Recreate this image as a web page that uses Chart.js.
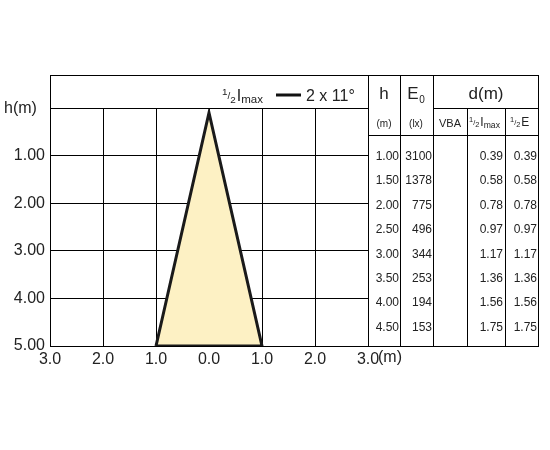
<!DOCTYPE html>
<html>
<head>
<meta charset="utf-8">
<script src="https://cdn.jsdelivr.net/npm/chart.js@4/dist/chart.umd.min.js"></script>
<style>
  html, body { margin: 0; padding: 0; background: #fff; }
  #wrap { width: 550px; height: 450px; }
</style>
</head>
<body>
<div id="wrap"><canvas id="beam" width="550" height="450"></canvas></div>
<script>
/* Beam diagram: 1/2 Imax, 2 x 11 deg */

var BEAM_HALF_ANGLE = 11;
var CONE_X = [-1.0, 0.0, 1.0, -1.0];
var CONE_H = [5.0, 0.1, 5.0, 5.0];
var TABLE_H = ['1.00', '1.50', '2.00', '2.50', '3.00', '3.50', '4.00', '4.50'];
var TABLE_E0 = ['3100', '1378', '775', '496', '344', '253', '194', '153'];
var TABLE_VBA = ['', '', '', '', '', '', '', ''];
var TABLE_HALF_IMAX = ['0.39', '0.58', '0.78', '0.97', '1.17', '1.36', '1.56', '1.75'];
var TABLE_HALF_E = ['0.39', '0.58', '0.78', '0.97', '1.17', '1.36', '1.56', '1.75'];
var FONT = 'Arial, "Liberation Sans", sans-serif';

function conePoints() {
  var pts = [];
  for (var i = 0; i < CONE_X.length; i += 1) {
    pts.push({ x: CONE_X[i], y: CONE_H[i] });
  }
  return pts;
}

function halfText(ctx, x, y, sub, size) {
  // draws a small "1/2" fraction then the symbol, returns width used
  ctx.font = (size * 0.62) + 'px ' + FONT;
  ctx.textAlign = 'left';
  ctx.fillText('1', x, y - size * 0.35);
  var w = ctx.measureText('1').width;
  ctx.fillText('/', x + w, y - size * 0.1);
  var w2 = ctx.measureText('/').width;
  ctx.fillText('2', x + w + w2, y + size * 0.1);
  var w3 = ctx.measureText('2').width;
  var cx = x + w + w2 + w3 + 1;
  ctx.font = size + 'px ' + FONT;
  ctx.fillText(sub[0], cx, y);
  cx += ctx.measureText(sub[0]).width;
  if (sub[1]) {
    ctx.font = (size * 0.72) + 'px ' + FONT;
    ctx.fillText(sub[1], cx, y + size * 0.15);
    cx += ctx.measureText(sub[1]).width;
  }
  return cx - x;
}

var framePlugin = {
  id: 'frame',
  afterDraw: function (chart) {
    var ctx = chart.ctx;
    var a = chart.chartArea;
    var L = 50, R = 538, T = 75, B = 346;
    ctx.save();
    ctx.strokeStyle = '#000';
    ctx.lineWidth = 1;
    ctx.strokeRect(L + 0.5, T + 0.5, R - L, B - T);
    ctx.beginPath();
    ctx.moveTo(368.5, T); ctx.lineTo(368.5, B);
    ctx.moveTo(400.5, T); ctx.lineTo(400.5, B);
    ctx.moveTo(433.5, T); ctx.lineTo(433.5, B);
    ctx.moveTo(467.5, 108); ctx.lineTo(467.5, B);
    ctx.moveTo(505.5, 108); ctx.lineTo(505.5, B);
    ctx.moveTo(433, 108.5); ctx.lineTo(R, 108.5);
    ctx.moveTo(368, 135.5); ctx.lineTo(R, 135.5);
    ctx.moveTo(L, a.top + 0.5); ctx.lineTo(368, a.top + 0.5);
    ctx.stroke();

    ctx.fillStyle = '#222';
    ctx.textBaseline = 'alphabetic';
    // header legend
    halfText(ctx, 222, 101, ['I', 'max'], 16);
    ctx.lineWidth = 3;
    ctx.strokeStyle = '#111';
    ctx.beginPath(); ctx.moveTo(276, 95); ctx.lineTo(301, 95); ctx.stroke();
    ctx.font = '16px ' + FONT;
    ctx.textAlign = 'left';
    ctx.fillText('2 x ' + BEAM_HALF_ANGLE + '°', 306, 101);

    // axis titles
    ctx.fillText('h(m)', 4, 113);
    ctx.fillText('(m)', 378, 362);

    // table header
    ctx.textAlign = 'center';
    ctx.font = '17px ' + FONT;
    ctx.fillText('h', 384, 99);
    ctx.fillText('E', 413, 99);
    ctx.font = '10px ' + FONT;
    ctx.fillText('0', 422, 103);
    ctx.font = '17px ' + FONT;
    ctx.fillText('d(m)', 486, 99);
    ctx.font = '10px ' + FONT;
    ctx.fillText('(m)', 384, 127);
    ctx.fillText('(lx)', 416, 127);
    ctx.font = '11px ' + FONT;
    ctx.fillText('VBA', 450, 127);
    ctx.textAlign = 'left';
    halfText(ctx, 469, 126, ['I', 'max'], 12);
    halfText(ctx, 510, 126, ['E', ''], 12);

    // table rows
    ctx.font = '12px ' + FONT;
    ctx.textAlign = 'right';
    for (var i = 0; i < TABLE_H.length; i += 1) {
      var y = 160 + i * 24.4;
      ctx.fillText(TABLE_H[i], 399, y);
      ctx.fillText(TABLE_E0[i], 432, y);
      ctx.fillText(TABLE_VBA[i], 466, y);
      ctx.fillText(TABLE_HALF_IMAX[i], 503, y);
      ctx.fillText(TABLE_HALF_E[i], 537, y);
    }
    ctx.restore();
  }
};

new Chart(document.getElementById('beam'), {
  type: 'scatter',
  data: {
    datasets: [{
      data: conePoints(),
      showLine: true,
      fill: 'shape',
      backgroundColor: '#fdf1c4',
      borderColor: '#1a1a1a',
      borderWidth: 3,
      pointRadius: 0,
      tension: 0
    }]
  },
  options: {
    responsive: false,
    animation: false,
    layout: { padding: { left: 0, right: 182, top: 108, bottom: 0 } },
    plugins: { legend: { display: false }, tooltip: { enabled: false } },
    scales: {
      x: {
        type: 'linear', min: -3, max: 3,
        grid: { color: '#000', lineWidth: 1, drawTicks: false },
        border: { display: false },
        afterFit: function (s) { s.height = 104; },
        ticks: {
          stepSize: 1, padding: 4, color: '#222',
          font: { size: 16, family: FONT },
          callback: function (v) { return Math.abs(v).toFixed(1); }
        }
      },
      y: {
        type: 'linear', min: 0, max: 5, reverse: true,
        grid: { color: '#000', lineWidth: 1, drawTicks: false },
        border: { display: false },
        afterFit: function (s) { s.width = 50; },
        ticks: {
          stepSize: 1, padding: 5, color: '#222',
          font: { size: 16, family: FONT },
          callback: function (v) { return v === 0 ? '' : v.toFixed(2); }
        }
      }
    }
  },
  plugins: [framePlugin]
});
</script>
</body>
</html>
